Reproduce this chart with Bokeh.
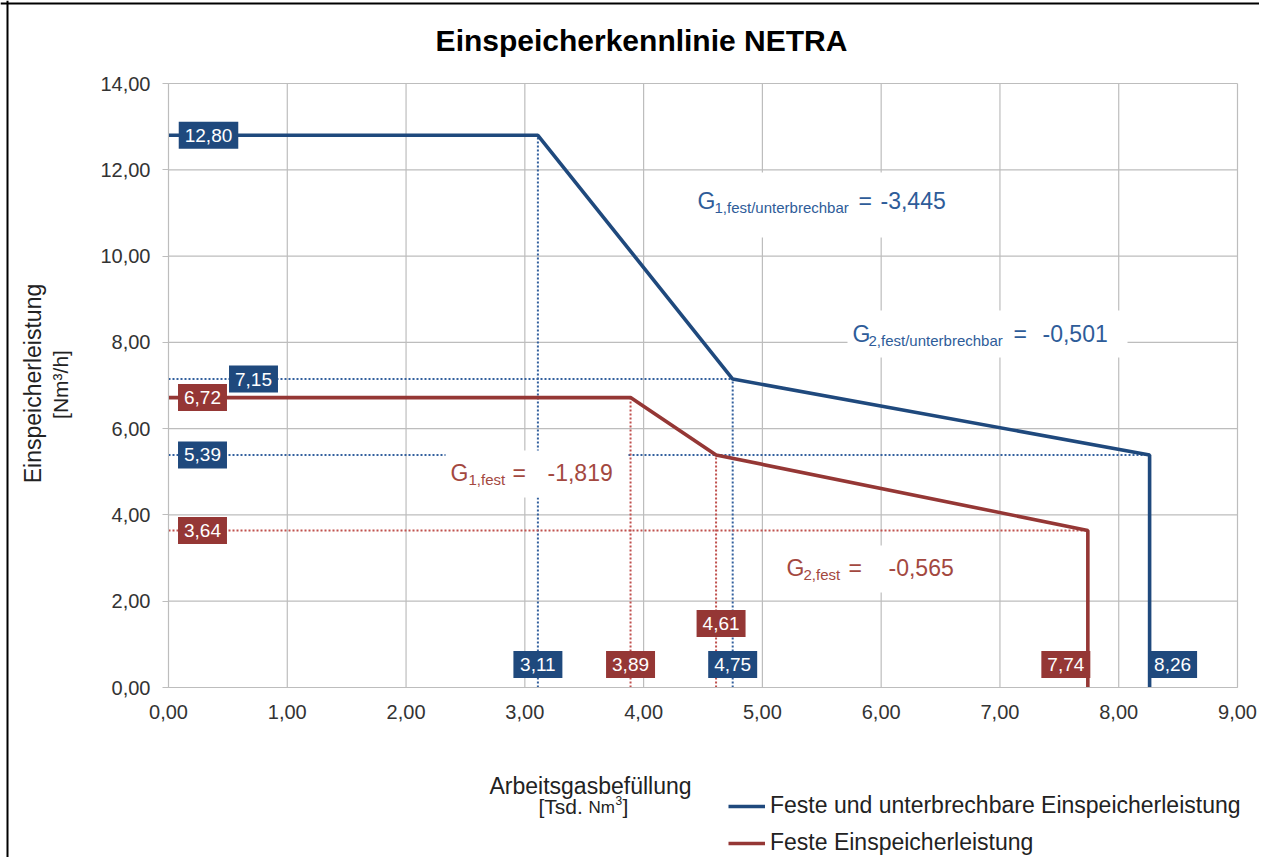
from bokeh.plotting import figure
from bokeh.models import (Range1d, FixedTicker, CustomJSTickFormatter, Label,
                          BoxAnnotation, Legend, LegendItem, Span)
from bokeh.embed import file_html
from bokeh.resources import INLINE
from bokeh.core.properties import value
import math

# ---------------- data ----------------
blue_x = [0.0, 3.11, 4.75, 8.26, 8.26]
blue_y = [12.80, 12.80, 7.15, 5.39, 0.0]
red_x = [0.0, 3.89, 4.61, 7.74, 7.74]
red_y = [6.72, 6.72, 5.39, 3.64, 0.0]

blue_name = "Feste und unterbrechbare Einspeicherleistung"
red_name = "Feste Einspeicherleistung"

blue_grad = [-3.445, -0.501]
red_grad = [-1.819, -0.565]
blue_grad_sub = ["1,fest/unterbrechbar", "2,fest/unterbrechbar"]
red_grad_sub = ["1,fest", "2,fest"]

x_ticks = [0, 1, 2, 3, 4, 5, 6, 7, 8, 9]
y_ticks = [0, 2, 4, 6, 8, 10, 12, 14]

title_text = "Einspeicherkennlinie NETRA"
x_title = "Arbeitsgasbefüllung"
x_unit = ["[Tsd.", "Nm", "3", "]"]
y_title = ["Einspeicherleistung", "[Nm³/h]"]

# ---------------- styling ----------------
FONT = "Liberation Sans"
BLUE = "#1F497D"
RED = "#953735"
BLUE_DOT = "#33609E"
RED_DOT = "#C0504D"
BLUE_TXT = "#2E5C99"
RED_TXT = "#A3483F"
GRID = "#BDBDBD"
TXT = "#333333"
DARK = "#222222"

W, H = 1259, 857
# pixel position of the plot area (canvas px)
X0, X1, Y0, Y1 = 168.0, 1237.0, 687.0, 83.0
XMAX, YMAX = 9.0, 14.0
PXX = (X1 - X0) / XMAX
PXY = (Y0 - Y1) / YMAX
def dx(px):
    return (px - X0) / PXX
def dy(py):
    return (Y0 - py) / PXY

def fmt(v):
    return f"{v:.2f}".replace(".", ",")

p = figure(width=W, height=H, x_range=Range1d(dx(0), dx(W)), y_range=Range1d(dy(H), dy(0)),
           output_backend="svg", toolbar_location=None, min_border=0)
p.outline_line_color = None
p.background_fill_color = "white"
p.border_fill_color = "white"
p.grid.visible = False

# outer chart border (left and top edge visible in the reference)
p.add_layout(Span(location=dx(7), dimension="height", line_color="black", line_width=2))
p.add_layout(Span(location=dy(3), dimension="width", line_color="black", line_width=2))

formatter = CustomJSTickFormatter(code="return tick.toFixed(2).replace('.', ',');")
for ax, ticks, lim in ((p.xaxis[0], x_ticks, (0, XMAX)), (p.yaxis[0], y_ticks, (0, YMAX))):
    ax.fixed_location = 0
    ax.bounds = lim
    ax.ticker = FixedTicker(ticks=ticks)
    ax.formatter = formatter
    ax.axis_line_color = GRID
    ax.major_tick_line_color = GRID
    ax.minor_tick_line_color = None
    ax.major_tick_in = 0
    ax.major_label_text_font = FONT
    ax.major_label_text_font_size = "20px"
    ax.major_label_text_color = TXT
p.xaxis[0].major_tick_out = 0
p.xaxis[0].major_label_standoff = 17
p.yaxis[0].major_tick_out = 6
p.yaxis[0].major_label_standoff = 12

# gridlines (bounded to the plot area)
p.segment(x0=x_ticks, y0=[0] * len(x_ticks), x1=x_ticks, y1=[YMAX] * len(x_ticks),
          line_color=GRID, line_width=1.2)
p.segment(x0=[0] * len(y_ticks), y0=y_ticks, x1=[XMAX] * len(y_ticks), y1=y_ticks,
          line_color=GRID, line_width=1.2)

# ---------------- dotted reference lines ----------------
bvx = [blue_x[1], blue_x[2]]
bvy = [blue_y[1], blue_y[2]]
p.segment(x0=bvx, y0=[0, 0], x1=bvx, y1=bvy, line_color=BLUE_DOT, line_width=2, line_dash="2 2")
bhy = [blue_y[2], blue_y[3]]
bhx = [blue_x[2], blue_x[3]]
p.segment(x0=[0, 0], y0=bhy, x1=bhx, y1=bhy, line_color=BLUE_DOT, line_width=2, line_dash="2 2")
rvx = [red_x[1], red_x[2]]
rvy = [red_y[1], red_y[2]]
p.segment(x0=rvx, y0=[0, 0], x1=rvx, y1=rvy, line_color=RED_DOT, line_width=2, line_dash="2 2")
p.segment(x0=[0], y0=[red_y[3]], x1=[red_x[3]], y1=[red_y[3]], line_color=RED_DOT,
          line_width=2, line_dash="2 2")

# ---------------- main lines ----------------
rb = p.line(blue_x, blue_y, line_color=BLUE, line_width=3.6)
rr = p.line(red_x, red_y, line_color=RED, line_width=3.6)

# ---------------- value boxes (rect + text) ----------------
# (anchor x, anchor y, shown value, colour, x offset px, y offset px)
boxes = [
    (0, blue_y[0], blue_y[0], BLUE, 40, 0),
    (0, blue_y[2], blue_y[2], BLUE, 85, 0),
    (0, red_y[0], red_y[0], RED, 34, 0),
    (0, blue_y[3], blue_y[3], BLUE, 34, 0),
    (0, red_y[3], red_y[3], RED, 34, 0),
    (blue_x[1], 0, blue_x[1], BLUE, 0, 23),
    (red_x[1], 0, red_x[1], RED, 0, 23),
    (blue_x[2], 0, blue_x[2], BLUE, 0, 23),
    (red_x[2], 0, red_x[2], RED, 5, 64),
    (red_x[3], 0, red_x[3], RED, -22, 23),
    (blue_x[3], 0, blue_x[3], BLUE, 23, 23),
]
bx = [b[0] + b[4] / PXX for b in boxes]
by = [b[1] + b[5] / PXY for b in boxes]
bt = [fmt(b[2]) for b in boxes]
bc = [b[3] for b in boxes]
bw = [(sum(0.278 if ch == "," else 0.556 for ch in t)) * 19 + 12 for t in bt]
p.rect(x=bx, y=by, width=bw, height=[27] * len(bx), width_units="screen", height_units="screen",
       fill_color=bc, line_color=None)
p.text(x=bx, y=by, text=bt, text_color="white", text_font=value(FONT), text_font_size="19px",
       text_align="center", text_baseline="middle")

# ---------------- helpers ----------------
def white_box(l, r, t, b):
    p.add_layout(BoxAnnotation(left=dx(l), right=dx(r), top=dy(t), bottom=dy(b),
                               fill_color="white", fill_alpha=1.0, line_color=None))

def txt(x, y, s, size, color, align="left", baseline="middle", bold=False, angle=0.0):
    lab = Label(x=x, y=y, text=s, text_font=FONT, text_font_size=size, text_color=color,
                text_align=align, text_baseline=baseline, angle=angle)
    if bold:
        lab.text_font_style = "bold"
    p.add_layout(lab)

def grad_label(gx, eqx, vx, mid, sub, val, color):
    txt(dx(gx[0]), dy(mid), "G", "23px", color)
    txt(dx(gx[1]), dy(mid + 7), sub, "15px", color)
    txt(dx(eqx), dy(mid), "=", "23px", color)
    txt(dx(vx), dy(mid), f"{val:.3f}".replace(".", ","), "23px", color)

# ---------------- gradient annotations ----------------
white_box(680, 962, 172, 237)
grad_label((697, 714), 858, 880, 200, blue_grad_sub[0], blue_grad[0], BLUE_TXT)
white_box(847, 1127, 310, 357)
grad_label((852, 868), 1013, 1042, 333, blue_grad_sub[1], blue_grad[1], BLUE_TXT)
white_box(445, 627, 450, 497)
grad_label((450, 468), 512, 547, 472, red_grad_sub[0], red_grad[0], RED_TXT)
white_box(770, 975, 545, 592)
grad_label((786, 803), 848, 888, 567, red_grad_sub[1], red_grad[1], RED_TXT)

# ---------------- titles ----------------
txt(dx(641), dy(40), title_text, "30px", "black", align="center", bold=True)
txt(dx(590), dy(785), x_title, "23px", DARK, align="center")
txt(dx(538), dy(806), x_unit[0], "21px", DARK)
txt(dx(588), dy(807), x_unit[1], "17px", DARK)
txt(dx(615), dy(800), x_unit[2], "12px", DARK)
txt(dx(622), dy(806), x_unit[3], "21px", DARK)
txt(dx(32), dy(383), y_title[0], "23px", DARK, align="center", angle=math.pi / 2)
txt(dx(60), dy(384), y_title[1], "21px", DARK, align="center", angle=math.pi / 2)

# ---------------- legend ----------------
legend = Legend(items=[LegendItem(label=blue_name, renderers=[rb]),
                       LegendItem(label=red_name, renderers=[rr])],
                location=(728, 1), orientation="vertical",
                glyph_width=37, glyph_height=26, label_height=26, label_standoff=5,
                spacing=10, padding=0, margin=0,
                label_text_font=FONT, label_text_font_size="23px", label_text_color=DARK,
                background_fill_alpha=0, border_line_color=None)
p.add_layout(legend, "center")

open("out.html", "w").write(file_html(p, INLINE))
